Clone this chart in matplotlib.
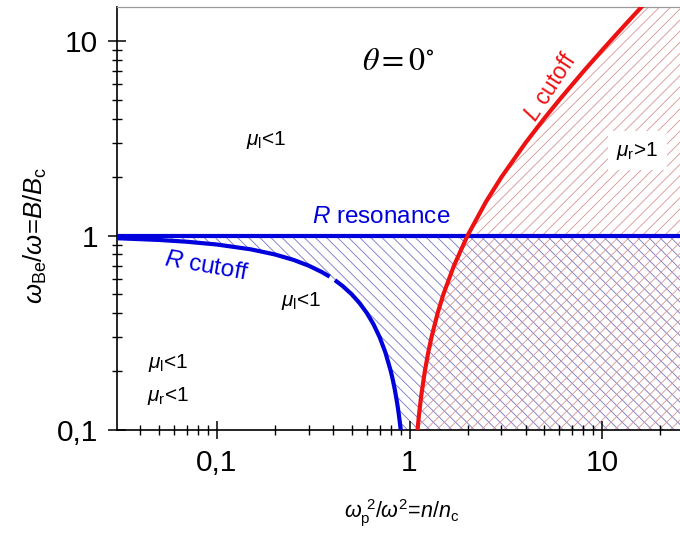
import matplotlib
matplotlib.use("Agg")
import matplotlib.pyplot as plt
from matplotlib.ticker import FixedLocator, FixedFormatter, LogLocator, NullFormatter

# cutoff curves, read point by point
r_cut_x1 = [0.03, 0.05, 0.07, 0.1, 0.15, 0.2, 0.25, 0.3, 0.35, 0.385]
r_cut_y1 = [0.97, 0.95, 0.93, 0.9, 0.85, 0.8, 0.75, 0.7, 0.65, 0.615]
r_cut_x2 = [0.41, 0.45, 0.5, 0.55, 0.6, 0.65, 0.7, 0.75, 0.8, 0.82, 0.84, 0.86, 0.87, 0.88, 0.89, 0.9]
r_cut_y2 = [0.59, 0.55, 0.5, 0.45, 0.4, 0.35, 0.3, 0.25, 0.2, 0.18, 0.16, 0.14, 0.13, 0.12, 0.11, 0.1]

l_cut_x = [1.1, 1.12, 1.15, 1.2, 1.25, 1.3, 1.4, 1.5, 1.7, 2.0, 2.5, 3.0, 4.0, 5.0, 6.0, 8.0, 10.0, 12.0, 14.0, 16.0]
l_cut_y = [0.1, 0.12, 0.15, 0.2, 0.25, 0.3, 0.4, 0.5, 0.7, 1.0, 1.5, 2.0, 3.0, 4.0, 5.0, 7.0, 9.0, 11.0, 13.0, 15.0]

r_res_y = 1.0

x_lim = (0.0303, 27.5)
y_lim = (0.1, 15.0)

x_ticks = [0.1, 1, 10]
x_labels = ["0,1", "1", "10"]
y_ticks = [0.1, 1, 10]
y_labels = ["0,1", "1", "10"]

BLUE = "#0000dd"
RED = "#ee1111"

DPI = 100
plt.rcParams["font.family"] = ["Liberation Sans", "DejaVu Sans"]
plt.rcParams["mathtext.fontset"] = "custom"
plt.rcParams["mathtext.rm"] = "Liberation Sans"
plt.rcParams["mathtext.it"] = "Liberation Sans:italic"
plt.rcParams["mathtext.bf"] = "Liberation Sans:bold"
plt.rcParams["hatch.linewidth"] = 0.6

fig = plt.figure(figsize=(680 / DPI, 539 / DPI), dpi=DPI)
ax = fig.add_axes([117 / 680, 1 - 430 / 539, 1 - 117 / 680 + 0.01, (430 - 7) / 539])
ax.set_xscale("log")
ax.set_yscale("log")
ax.set_xlim(*x_lim)
ax.set_ylim(*y_lim)

# hatched regions: blue between R cutoff and R resonance, red beyond L cutoff
blue_x = r_cut_x1 + r_cut_x2 + [x_lim[1], x_lim[1], x_lim[0]]
blue_y = r_cut_y1 + r_cut_y2 + [y_lim[0], r_res_y, r_res_y]
ax.fill(blue_x, blue_y, facecolor="none", edgecolor="#7474c8", hatch="\\\\\\", linewidth=0, zorder=1)

red_x = l_cut_x + [x_lim[1], x_lim[1]]
red_y = l_cut_y + [y_lim[1], y_lim[0]]
ax.fill(red_x, red_y, facecolor="none", edgecolor="#d89494", hatch="///", linewidth=0, zorder=1)

# curves
ax.axhline(r_res_y, color=BLUE, lw=3.0, zorder=3)
ax.plot(r_cut_x1, r_cut_y1, color=BLUE, lw=3.0, zorder=3, solid_capstyle="butt")
ax.plot(r_cut_x2, r_cut_y2, color=BLUE, lw=3.0, zorder=3, solid_capstyle="butt")
ax.plot(l_cut_x, l_cut_y, color=RED, lw=3.0, zorder=3)

# labels inside the plot
ax.text(0.875, 7.8, r"$\theta = 0^{\circ}$", fontsize=23, math_fontfamily="stix",
        ha="center", va="center")
ax.text(0.18, 3.1, r"$\mu_{\rm l}$<1", fontsize=15, ha="center", va="center")
ax.text(0.71, 1.25, r"$R$ resonance", fontsize=17.5, color=BLUE, ha="center", va="center")
ax.text(0.088, 0.69, r"$R$ cutoff", fontsize=17.5, color=BLUE, ha="center", va="center", rotation=-10)
ax.text(0.275, 0.46, r"$\mu_{\rm l}$<1", fontsize=15, ha="center", va="center")
ax.text(0.056, 0.22, r"$\mu_{\rm l}$<1", fontsize=15, ha="center", va="center")
ax.text(0.056, 0.15, r"$\mu_{\rm r}$<1", fontsize=15, ha="center", va="center")
ax.text(5.4, 5.8, r"$L$ cutoff", fontsize=16.5, color=RED, ha="center", va="center", rotation=57)
ax.text(15.2, 2.74, r"$\mu_{\rm r}$>1", fontsize=15, ha="center", va="center", zorder=4,
        bbox=dict(facecolor="white", edgecolor="none", pad=6))

# axes and ticks
ax.xaxis.set_major_locator(FixedLocator(x_ticks))
ax.xaxis.set_major_formatter(FixedFormatter(x_labels))
ax.yaxis.set_major_locator(FixedLocator(y_ticks))
ax.yaxis.set_major_formatter(FixedFormatter(y_labels))
ax.xaxis.set_minor_locator(LogLocator(base=10, subs=range(2, 10)))
ax.yaxis.set_minor_locator(LogLocator(base=10, subs=range(2, 10)))
ax.xaxis.set_minor_formatter(NullFormatter())
ax.yaxis.set_minor_formatter(NullFormatter())
ax.tick_params(which="major", direction="inout", length=13, width=1.1, labelsize=21.5, pad=7)
ax.tick_params(which="minor", direction="inout", length=6.5, width=1.0)

ax.spines["right"].set_visible(False)
ax.spines["top"].set_color("#999999")
ax.spines["top"].set_linewidth(0.9)
for s in ["left", "bottom"]:
    ax.spines[s].set_linewidth(1.2)

fig.text(402 / 680, 1 - 513 / 539, r"$\omega_{\rm p}^{\ 2}/\omega^{2}$=$n/n_{\rm c}$",
         fontsize=15.5, ha="center", va="center")
fig.text(35 / 680, 1 - 235 / 539, r"$\omega_{\rm Be}/\omega$=$B/B_{\rm c}$",
         fontsize=18.5, ha="center", va="center", rotation=90)

fig.savefig("out.png", dpi=DPI)
